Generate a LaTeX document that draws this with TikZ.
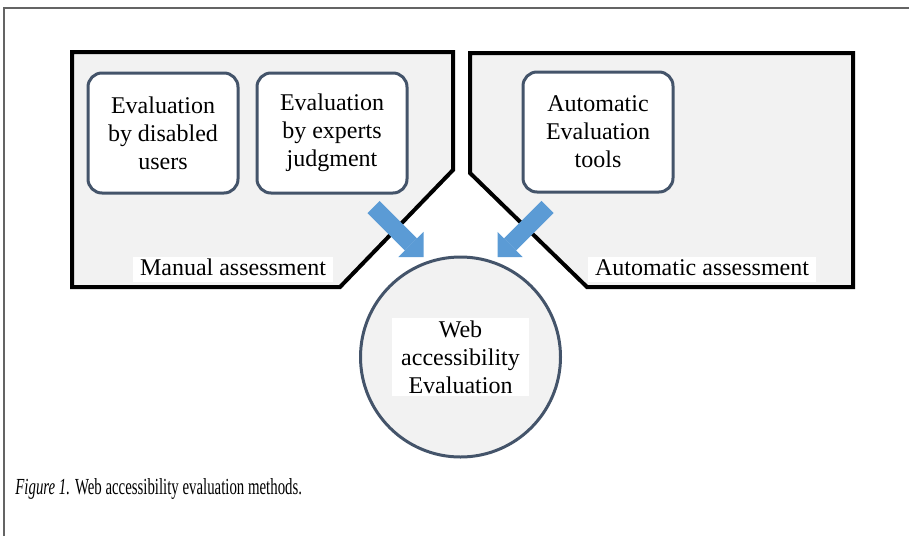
\documentclass[tikz,border=0pt]{standalone}
\usepackage{fontspec}
\setmainfont{LiberationSerif}[Extension=.ttf, UprightFont=*-Regular,
    BoldFont=*-Bold, ItalicFont=*-Italic, BoldItalicFont=*-BoldItalic]
\usetikzlibrary{arrows.meta}
\definecolor{panelgray}{RGB}{242,242,242}
\definecolor{boxblue}{RGB}{68,84,106}
\definecolor{arrowblue}{RGB}{91,155,213}
\definecolor{framegray}{RGB}{100,100,100}

\begin{document}
\begin{tikzpicture}[x=0.5pt, y=-0.5pt,
    panel/.style={draw=black, line width=2pt, fill=panelgray},
    method/.style={draw=boxblue, line width=1.5pt, fill=white, rounded corners=7pt,
        minimum width=75pt, minimum height=60pt, align=center, inner sep=0pt,
        font=\fontsize{12}{14}\selectfont},
    tag/.style={fill=white, inner xsep=3.5pt, inner ysep=0.75pt, text height=8.5pt,
        text depth=2.5pt, font=\fontsize{12}{14}\selectfont},
    hub/.style={circle, draw=boxblue, line width=1.5pt, fill=panelgray, minimum size=100pt},
    flow/.style={arrowblue, line width=8.5pt,
        -{Triangle[width=17.7pt, length=8.85pt, line width=0pt]}}]
  \useasboundingbox (0,0) rectangle (909,536);

  % frame
  \draw[framegray, line width=0.75pt] (4,536) -- (4,8) -- (909,8);

  % panels
  \draw[panel] (72,52) -- (453,52) -- (453,170) -- (340,287) -- (72,287) -- cycle;
  \draw[panel] (470,53) -- (853,53) -- (853,287) -- (587,287) -- (470,173) -- cycle;

  \node[method] (disabled) at (163,133) {Evaluation\\by disabled\\users};
  \node[method] (experts) at (332,133) {Evaluation\\by experts\\judgment};
  \node[method] (tools) at (598,132) {Automatic\\Evaluation\\tools};

  \node[tag] (manual) at (233,269) {Manual assessment};
  \node[tag] (automatic) at (702,269) {Automatic assessment};

  % result
  \node[hub] (web) at (460.5,357) {};
  \node[fill=white, align=center, inner xsep=4.5pt, inner ysep=1.5pt,
      font=\fontsize{12}{14}\selectfont] (webtext) at (web) {Web\\accessibility\\Evaluation};

  \coordinate (lefttail) at (373.5,207);
  \coordinate (lefttip) at (423.5,257);
  \coordinate (righttail) at (547.5,207);
  \coordinate (righttip) at (497.5,257);
  \draw[flow] (lefttail) -- (lefttip);
  \draw[flow] (righttail) -- (righttip);

  \node[anchor=west, inner sep=0pt] (caption) at (15,489)
      {\scalebox{0.645}[1]{\fontsize{11.5}{13}\selectfont\textit{Figure 1.} Web accessibility evaluation methods.}};
\end{tikzpicture}
\end{document}
